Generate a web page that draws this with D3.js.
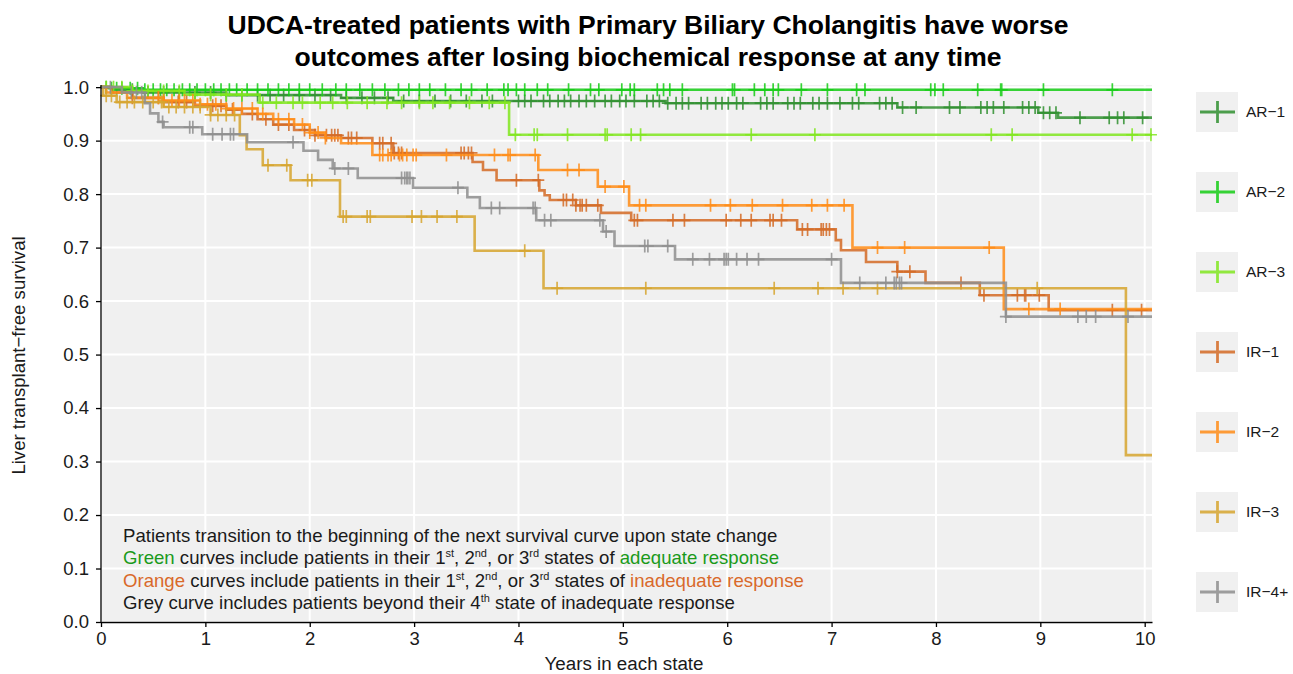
<!DOCTYPE html>
<html><head><meta charset="utf-8">
<script src="https://cdn.jsdelivr.net/npm/d3@7"></script>
<style>body{margin:0;background:#fff;} svg{display:block;font-family:"Liberation Sans",Arial,Helvetica,sans-serif;}</style>
</head><body><svg id="c" width="1293" height="674"></svg>
<script>
// ---------------- data ----------------
const seriesNames  = ["AR\u22121","AR\u22122","AR\u22123","IR\u22121","IR\u22122","IR\u22123","IR\u22124+"];
const seriesColors = ["#2f8f2f","#14cc14","#80e61e","#d46a24","#ff8c16","#d6a42e","#8e8e8e"];
const xTicks = [0,1,2,3,4,5,6,7,8,9,10];
const yTicks = [0,0.1,0.2,0.3,0.4,0.5,0.6,0.7,0.8,0.9,1.0];
const maxTime = 10.07;

// step times / survival for each curve
const ar1Times = [0,0.1,0.4,1.2,2.3,2.8,5.41,7.63,8.98,9.17];
const ar1Surv  = [1,0.995,0.99,0.985,0.98,0.974,0.970,0.962,0.952,0.943];
const ar2Times = [0,0.08,0.4];
const ar2Surv  = [1,0.998,0.995];
const ar3Times = [0,0.3,0.8,1.52,3.91];
const ar3Surv  = [1,0.993,0.986,0.971,0.911];
const ir1Times = [0,0.1,0.3,0.6,0.9,1.2,1.35,1.5,1.65,1.85,2.05,2.3,2.6,2.8,3.56,3.66,3.79,4.2,4.25,4.3,4.55,4.79,5.08,6.67,7.04,7.09,7.33,7.63,7.9,8.42,9.08];
const ir1Surv  = [1,0.99,0.98,0.972,0.965,0.958,0.95,0.94,0.93,0.92,0.91,0.905,0.895,0.877,0.86,0.845,0.826,0.807,0.798,0.789,0.779,0.765,0.751,0.734,0.714,0.695,0.673,0.655,0.634,0.611,0.583];
const ir2Times = [0,0.05,0.25,0.6,0.95,1.2,1.5,1.65,1.85,2.0,2.15,2.3,2.6,4.19,4.76,5.06,7.2,8.65];
const ir2Surv  = [1,0.99,0.98,0.975,0.968,0.96,0.95,0.94,0.93,0.915,0.905,0.895,0.873,0.845,0.814,0.779,0.70,0.585];
const ir3Times = [0,0.02,0.15,0.6,1.05,1.33,1.395,1.55,1.816,2.29,3.58,4.24,9.82];
const ir3Surv  = [1,0.984,0.972,0.963,0.948,0.91,0.884,0.854,0.826,0.758,0.694,0.624,0.312];
const ir4Times = [0,0.2,0.42,0.47,0.55,0.6,0.97,1.4,1.94,2.08,2.22,2.46,2.99,3.51,3.63,4.17,4.81,4.92,5.5,7.09,8.67];
const ir4Surv  = [1,0.99,0.97,0.951,0.935,0.925,0.912,0.897,0.881,0.864,0.848,0.830,0.812,0.794,0.774,0.751,0.73,0.703,0.678,0.634,0.571];

// censoring times for each curve
const ar1Censor = [0.3,0.45,0.6,0.75,0.9,1.05,1.2,1.35,1.5,1.62,1.75,1.9,2.05,2.2,2.35,2.5,2.62,2.75,2.9,3.05,3.2,3.35,3.5,3.65,3.75,4.00,4.06,4.12,4.24,4.30,4.38,4.44,4.50,4.58,4.65,4.73,4.83,4.89,4.97,5.03,5.11,5.23,5.29,5.35,5.43,5.51,5.57,5.63,5.75,5.81,5.89,5.95,6.01,6.09,6.15,6.32,6.38,6.44,6.58,6.64,6.70,6.82,6.88,6.96,7.08,7.20,7.26,7.46,7.52,7.58,7.68,7.81,8.13,8.23,8.43,8.49,8.55,8.65,8.83,8.89,8.95,9.03,9.09,9.15,9.38,9.66,9.74,9.80,9.98];
const ar2Censor = [0.05,0.1,0.15,0.2,0.28,0.35,0.42,0.5,0.57,0.63,0.7,0.78,0.85,0.92,1.0,1.08,1.15,1.23,1.3,1.4,1.5,1.6,1.7,1.8,1.9,2.0,2.12,2.25,2.35,2.48,2.6,2.72,2.85,2.95,3.05,3.15,3.3,3.45,3.55,3.7,3.86,3.90,3.98,4.06,4.18,4.28,4.48,4.69,4.77,4.99,5.07,5.11,5.33,5.39,5.45,5.57,6.05,6.07,6.26,6.36,6.44,6.49,6.71,6.96,7.24,7.32,7.95,7.99,8.07,8.40,8.62,8.63,9.03,9.69];
const ar3Censor = [0.05,0.12,0.2,0.3,0.45,0.6,0.75,0.9,1.05,1.2,1.35,1.55,1.68,1.84,1.93,2.10,2.22,2.36,2.55,2.74,2.88,3.05,3.18,3.34,3.53,3.72,3.87,3.97,4.15,4.18,4.47,4.83,4.85,5.08,5.17,6.23,6.84,8.53,8.73,9.88,10.06];
const ir1Censor = [0.3,0.55,0.74,0.82,1.07,1.15,1.26,1.45,1.58,1.7,1.8,1.95,2.05,2.16,2.21,2.24,2.27,2.37,2.40,2.45,2.67,2.70,2.78,2.81,2.85,2.88,3.45,3.48,3.52,3.55,3.98,4.19,4.43,4.46,4.52,4.55,4.59,4.61,4.65,4.76,5.11,5.14,5.48,5.59,5.99,6.13,6.23,6.41,6.44,6.52,6.72,6.77,6.90,6.92,6.95,6.98,7.63,7.75,8.24,8.46,8.78,8.85,8.86,8.99,9.69,9.97];
const ir2Censor = [0.55,0.6,0.68,0.75,0.8,0.88,0.95,1.02,1.1,1.2,1.27,1.35,1.45,1.55,1.7,1.8,1.93,2.0,2.08,2.15,2.67,2.70,2.75,2.78,2.86,2.89,2.93,2.99,3.02,3.31,3.77,3.90,3.92,4.16,4.47,4.58,4.83,5.01,5.16,5.22,5.84,6.03,6.24,6.53,6.81,6.96,7.12,7.44,7.70,8.51,8.89,9.19];
const ir3Censor = [0.05,0.1,0.18,0.25,0.32,0.4,0.5,0.58,0.65,0.72,0.8,0.88,0.95,1.05,1.12,1.2,1.28,1.60,1.78,1.98,2.02,2.32,2.35,2.55,2.58,2.98,3.07,3.22,3.41,4.06,4.37,5.22,6.45,6.87,7.11,7.44,8.97];
const ir4Censor = [0.09,0.29,0.34,0.39,0.59,0.85,0.88,1.07,1.16,1.24,1.27,1.84,2.24,2.37,2.88,2.91,2.93,2.94,2.96,3.42,3.74,3.82,4.14,4.16,4.25,4.31,4.78,4.84,5.21,5.24,5.43,5.67,5.83,5.97,5.99,6.01,6.09,6.19,6.30,7.00,7.27,7.52,7.60,7.62,7.65,7.67,8.67,9.36,9.44,9.53,9.84];

const stepTimes = [ar1Times,ar2Times,ar3Times,ir1Times,ir2Times,ir3Times,ir4Times];
const stepSurv  = [ar1Surv,ar2Surv,ar3Surv,ir1Surv,ir2Surv,ir3Surv,ir4Surv];
const censorTimes = [ar1Censor,ar2Censor,ar3Censor,ir1Censor,ir2Censor,ir3Censor,ir4Censor];

const titleLines = ["UDCA-treated patients with Primary Biliary Cholangitis have worse","outcomes after losing biochemical response at any time"];
const xTitle = "Years in each state";
const yTitle = "Liver transplant\u2212free survival";
const GREEN = "#1a9a1a", ORANGE = "#d9692a";
const noteLines = [
  [["Patients transition to the beginning of the next survival curve upon state change"]],
  [["Green",GREEN],[" curves include patients in their 1"],["st",null,1],[", 2"],["nd",null,1],[", or 3"],["rd",null,1],[" states of "],["adequate response",GREEN]],
  [["Orange",ORANGE],[" curves include patients in their 1"],["st",null,1],[", 2"],["nd",null,1],[", or 3"],["rd",null,1],[" states of "],["inadequate response",ORANGE]],
  [["Grey curve includes patients beyond their 4"],["th",null,1],[" state of inadequate response"]]
];

// ---------------- drawing ----------------
const svg = d3.select("#c");
const L=101,R=1152,T=85,B=622;
const x = d3.scaleLinear().domain([0,maxTime]).range([L,R]);
const y = d3.scaleLinear().domain([0,1.004]).range([B,T]);

svg.append("rect").attr("x",L).attr("y",T).attr("width",R-L).attr("height",B-T).attr("fill","#f0f0f0");
const grid = svg.append("g").attr("stroke","#fff").attr("stroke-width",2);
xTicks.forEach(t=>grid.append("line").attr("x1",x(t)).attr("x2",x(t)).attr("y1",T).attr("y2",B));
yTicks.forEach(t=>grid.append("line").attr("x1",L).attr("x2",R).attr("y1",y(t)).attr("y2",y(t)));

function survAt(times,surv,t){let v=surv[0];for(let i=0;i<times.length;i++){if(times[i]<=t)v=surv[i];}return v;}

const line = d3.line().x(d=>x(d[0])).y(d=>y(d[1])).curve(d3.curveStepAfter);
const curves = svg.append("g");
seriesNames.forEach((n,i)=>{
  const pts = stepTimes[i].map((t,j)=>[t,stepSurv[i][j]]);
  pts.push([maxTime,stepSurv[i][stepSurv[i].length-1]]);
  const g = curves.append("g").attr("stroke",seriesColors[i]).attr("fill","none").attr("stroke-opacity",0.85);
  g.append("path").attr("d",line(pts)).attr("stroke-width",2.6);
  const cp = censorTimes[i].map(t=>{const cx=x(t),cy=y(survAt(stepTimes[i],stepSurv[i],t));return `M${cx-6},${cy}H${cx+6}M${cx},${cy-6.5}V${cy+6.5}`;}).join("");
  g.append("path").attr("d",cp).attr("stroke-width",1.7);
});

// axes
const ax = svg.append("g").attr("transform",`translate(0,${B})`)
  .call(d3.axisBottom(x).tickValues(xTicks).tickFormat(d3.format("d")).tickSize(5).tickSizeOuter(0).tickPadding(5));
const ay = svg.append("g").attr("transform",`translate(${L},0)`)
  .call(d3.axisLeft(y).tickValues(yTicks).tickFormat(d3.format(".1f")).tickSize(5).tickSizeOuter(0).tickPadding(7));
[ax,ay].forEach(a=>{a.selectAll("path,line").attr("stroke","#000").attr("stroke-width",1.3);
  a.selectAll("text").attr("fill","#1a1a1a").style("font-size","18.5px").style("font-family","Liberation Sans,Arial,sans-serif");});
ay.select(".domain").attr("d",`M0,${B}V${T}`);

svg.append("text").attr("x",624).attr("y",670).attr("text-anchor","middle").attr("fill","#1a1a1a").style("font-size","18.8px").text(xTitle);
svg.append("text").attr("transform",`translate(25,${(T+B)/2+2}) rotate(-90)`).attr("text-anchor","middle").attr("fill","#1a1a1a").style("font-size","18.6px").text(yTitle);

// title
titleLines.forEach((s,i)=>svg.append("text").attr("x",648).attr("y",34+i*32).attr("text-anchor","middle")
  .attr("fill","#000").style("font-weight","bold").style("font-size","26.5px").text(s));

// annotation
const noteG = svg.append("g");
noteLines.forEach((segs,i)=>{
  const tx = noteG.append("text").attr("x",123).attr("y",542+i*22.3).attr("fill","#1a1a1a").style("font-size","18.6px");
  let up=false;
  segs.forEach(s=>{
    const ts = tx.append("tspan").text(s[0]);
    if(s[1]) ts.attr("fill",s[1]);
    if(s[2]){ts.attr("dy",-7).style("font-size","11px");up=true;}
    else if(up){ts.attr("dy",7);up=false;}
  });
});

// legend
const leg = svg.append("g");
seriesNames.forEach((n,i)=>{
  const cy = 112+i*80;
  const g = leg.append("g");
  g.append("rect").attr("x",1196).attr("y",cy-20).attr("width",42).attr("height",40).attr("fill","#f0f0f0");
  g.append("path").attr("d",`M1200,${cy}H1235M1217.5,${cy-11}V${cy+11}`).attr("stroke",seriesColors[i]).attr("stroke-width",2.8).attr("stroke-opacity",0.85).attr("fill","none");
  g.append("text").attr("x",1246).attr("y",cy+5).attr("fill","#1a1a1a").style("font-size","15.5px").text(n);
});
</script></body></html>
